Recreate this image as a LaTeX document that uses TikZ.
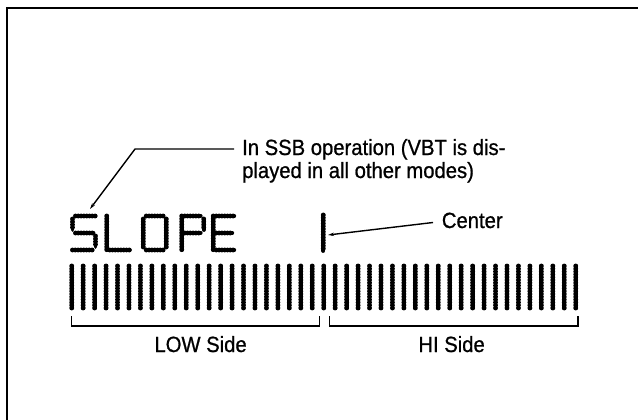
\documentclass[tikz,border=0pt]{standalone}
\usepackage{fontspec}
\setmainfont{Liberation Sans}
\newfontfamily\lblfont[FakeStretch=0.92, FakeBold=0.8]{Liberation Sans}
\usetikzlibrary{arrows.meta}
\begin{document}
\begin{tikzpicture}[x=1pt,y=-1pt,
  seg/.style={line width=4.9pt, line cap=round, dash pattern=on 0pt off 2.8pt,
    preaction={draw, solid, line width=3.8pt, line cap=round}},
  lead/.style={line width=1.4pt, -{Stealth[length=6pt,width=3.4pt]}},
  brk/.style={line width=1.4pt},
  lbl/.style={font=\lblfont\fontsize{22}{25}\selectfont, inner sep=0pt},
]
\useasboundingbox (0,0) rectangle (638,420);
% frame
\draw[line width=1.8pt] (7,420) -- (7,8) -- (638,8);
% SLOPE in dot-matrix style
\begin{scope}[shift={(72.5,0)}]% S
  \draw[seg] (3,216) -- (23,216);
  \draw[seg] (0,219) -- (0,230);
  \draw[seg] (3,233) -- (21,233);
  \draw[seg] (23,236) -- (23,247);
  \draw[seg] (0,250) -- (20,250);
\end{scope}
\begin{scope}[shift={(106.7,0)}]% L
  \draw[seg] (0,216) -- (0,250);
  \draw[seg] (3,250) -- (23,250);
\end{scope}
\begin{scope}[shift={(143.3,0)}]% O
  \draw[seg] (0,219) -- (0,247);
  \draw[seg] (23,219) -- (23,247);
  \draw[seg] (3,216) -- (20,216);
  \draw[seg] (3,250) -- (20,250);
\end{scope}
\begin{scope}[shift={(181.7,0)}]% P
  \draw[seg] (0,216) -- (0,250);
  \draw[seg] (3,216) -- (19,216);
  \draw[seg] (22,219) -- (22,230);
  \draw[seg] (3,233) -- (19,233);
\end{scope}
\begin{scope}[shift={(213.3,0)}]% E
  \draw[seg] (0,216) -- (0,250);
  \draw[seg] (3,216) -- (21,216);
  \draw[seg] (3,233) -- (19,233);
  \draw[seg] (3,250) -- (21,250);
\end{scope}
% centre marker
\draw[seg] (323.3,215) -- (323.3,251);
% bar graph
\foreach \i in {0,...,44}
  \draw[seg] ({71.7+11.455*\i},266) -- ({71.7+11.455*\i},308);
% brackets
\draw[brk] (71.7,316) -- (71.7,326) -- (319.3,326) -- (319.3,316);
\draw[brk] (329.3,316) -- (329.3,326) -- (578,326) -- (578,316);
% labels
\node[lbl, anchor=base west] (ssb1) at (242,155) {In SSB operation (VBT is dis-};
\node[lbl, anchor=base west] (ssb2) at (242,178) {played in all other modes)};
\node[lbl, anchor=base west] (ctr) at (441.7,228) {Center};
\node[lbl, anchor=base] (low) at (200.6,352) {LOW Side};
\node[lbl, anchor=base] (hi) at (451.6,352) {HI Side};
% leaders
\coordinate (k1) at (234,149);
\coordinate (k2) at (135,149);
\coordinate (sTip) at (90,209);
\draw[lead] (k1) -- (k2) -- (sTip);
\coordinate (c1) at (433,222.5);
\coordinate (cmark) at (328,235);
\draw[lead] (c1) -- (cmark);
\end{tikzpicture}
\end{document}
